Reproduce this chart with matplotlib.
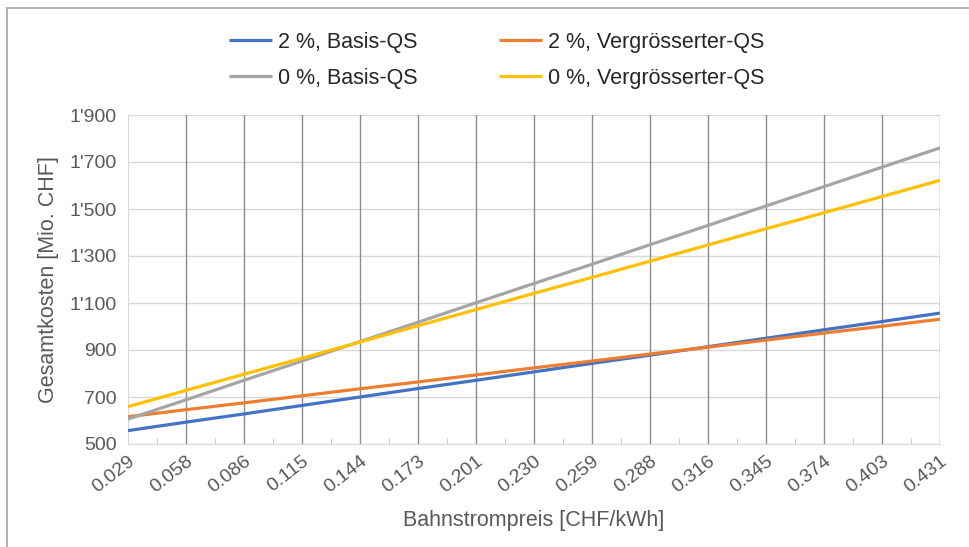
import numpy as np
import matplotlib
matplotlib.use("Agg")
import matplotlib.pyplot as plt
from matplotlib.lines import Line2D
from matplotlib.ticker import FuncFormatter

plt.rcParams['font.family'] = ['Liberation Sans', 'DejaVu Sans']

# Bahnstrompreis [CHF/kWh] categories
preis = ['0.029', '0.058', '0.086', '0.115', '0.144', '0.173', '0.201', '0.230',
         '0.259', '0.288', '0.316', '0.345', '0.374', '0.403', '0.431']

# Gesamtkosten [Mio. CHF]
basis_2 = [557, 593, 628, 664, 700, 736, 771, 807, 843, 878, 914, 950, 986, 1021, 1057]
gross_2 = [616, 646, 675, 705, 735, 764, 794, 824, 853, 883, 912, 942, 972, 1001, 1031]
basis_0 = [606, 688, 771, 853, 936, 1018, 1101, 1183, 1265, 1348, 1430, 1513, 1595, 1678, 1760]
gross_0 = [659, 728, 797, 865, 934, 1003, 1072, 1141, 1209, 1278, 1347, 1416, 1484, 1553, 1622]

labels = ['2 %, Basis-QS', '2 %, Vergrösserter-QS', '0 %, Basis-QS', '0 %, Vergrösserter-QS']
colors = ['#4472C4', '#ED7D31', '#A5A5A5', '#FFC000']

fig = plt.figure(figsize=(9.7, 5.47), dpi=100)
ax = fig.add_axes([128/970, 1 - 444/547, (940-128)/970, (444-115)/547])

x = np.arange(len(preis))
series = [basis_2, gross_2, basis_0, gross_0]
lines = []
for vals, lab, col in zip(series, labels, colors):
    l, = ax.plot(x, vals, color=col, lw=2.3, label=lab, solid_capstyle='butt', zorder=3)
    lines.append(l)

ax.set_xlim(0, len(preis) - 1)
ax.set_ylim(500, 1900)
ax.set_yticks(range(500, 1901, 200))
ax.yaxis.set_major_formatter(FuncFormatter(lambda v, p: f"{int(v):,}".replace(',', "'")))
ax.set_xticks(x)
ax.set_xticklabels(preis, rotation=38, ha='right', rotation_mode='anchor')
ax.set_xticks(x[:-1] + 0.5, minor=True)

# gridlines
for v in range(500, 1901, 200):
    ax.axhline(v, color='#D9D9D9', lw=1.0, zorder=1)
for xi in x[1:]:
    ax.axvline(xi, color='#8C8C8C', lw=1.0, zorder=1)

for s in ['top', 'right']:
    ax.spines[s].set_visible(False)
ax.spines['left'].set_color('#D9D9D9')
ax.spines['bottom'].set_color('#D9D9D9')
ax.spines['bottom'].set_zorder(2)

ax.tick_params(axis='y', length=0, labelsize=14, labelcolor='#595959', pad=8)
ax.tick_params(axis='x', which='major', length=0, labelsize=14, labelcolor='#595959', pad=6)
ax.tick_params(axis='x', which='minor', direction='in', length=4, color='#BFBFBF')

ax.set_xlabel('Bahnstrompreis [CHF/kWh]', fontsize=15.5, color='#595959', labelpad=10)
ax.set_ylabel('Gesamtkosten [Mio. CHF]', fontsize=15.5, color='#595959', labelpad=8)

order = [lines[0], lines[2], lines[1], lines[3]]
fig.legend(order, [l.get_label() for l in order], ncol=2, loc='center',
           bbox_to_anchor=(0.512, 0.8895), frameon=False, fontsize=15.5,
           handlelength=2.0, handletextpad=0.25, columnspacing=3.8, labelspacing=0.7,
           labelcolor='#262626')

# chart area border (top and left edges visible)
fig.add_artist(Line2D([7.5/970, 7.5/970], [0, 1 - 8/547], color='#A6A6A6', lw=1.2))
fig.add_artist(Line2D([7.5/970, 1], [1 - 8/547, 1 - 8/547], color='#A6A6A6', lw=1.2))

fig.savefig('out.png', dpi=100)
